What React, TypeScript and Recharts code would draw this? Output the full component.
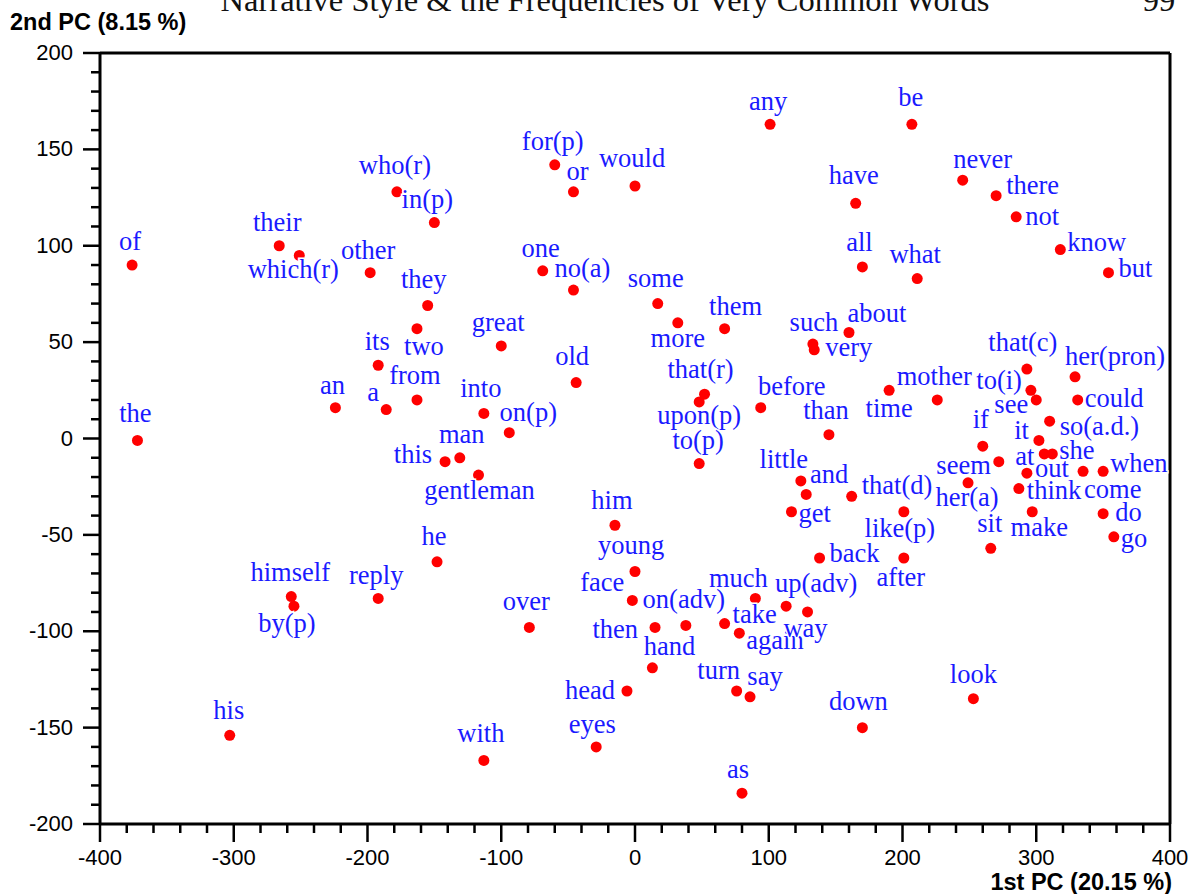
import { ReferenceLine, Scatter, ScatterChart, XAxis, YAxis } from "recharts";

// words and their scores on the first two principal components
const words = [
  "of", "the", "their", "which(r)", "who(r)", "in(p)", "other", "they", "its", "two",
  "an", "a", "from", "this", "man", "gentleman", "he", "himself", "by(p)", "reply",
  "his", "great", "into", "on(p)", "old", "for(p)", "or", "would", "one", "no(a)",
  "some", "more", "them", "that(r)", "upon(p)", "to(p)", "him", "young", "face", "on(adv)",
  "then", "over", "with", "eyes", "head", "hand", "turn", "say", "take", "again",
  "much", "up(adv)", "way", "as", "any", "be", "have", "never", "there", "not",
  "know", "but", "all", "what", "about", "such", "very", "before", "than", "mother",
  "time", "little", "and", "get", "that(d)", "like(p)", "back", "after", "that(c)", "her(pron)",
  "to(i)", "see", "could", "so(a.d.)", "if", "it", "at", "she", "seem", "her(a)",
  "out", "when", "come", "think", "make", "do", "go", "sit", "look", "down",
];

const pc1 = [
  -376, -372, -266, -251, -178, -150, -198, -155, -192, -163,
  -224, -186, -163, -142, -131, -117, -148, -257, -255, -192,
  -303, -100, -113, -94, -44, -60, -46, 0, -69, -46,
  17, 32, 67, 52, 48, 48, -15, 0, -2, 38,
  15, -79, -113, -29, -6, 13, 76, 86, 67, 78,
  90, 113, 129, 80, 101, 207, 165, 245, 270, 285,
  318, 354, 170, 211, 160, 133, 134, 94, 145, 226,
  190, 124, 128, 117, 162, 201, 138, 201, 293, 329,
  296, 300, 331, 310, 260, 302, 306, 312, 272, 249,
  293, 350, 335, 287, 297, 350, 358, 266, 253, 170,
];

const pc2 = [
  90, -1, 100, 95, 128, 112, 86, 69, 38, 57,
  16, 15, 20, -12, -10, -19, -64, -82, -87, -83,
  -154, 48, 13, 3, 29, 142, 128, 131, 87, 77,
  70, 60, 57, 23, 19, -13, -45, -69, -84, -97,
  -98, -98, -167, -160, -131, -119, -131, -134, -96, -101,
  -83, -87, -90, -184, 163, 163, 122, 134, 126, 115,
  98, 86, 89, 83, 55, 49, 46, 16, 2, 20,
  25, -22, -29, -38, -30, -38, -62, -62, 36, 32,
  25, 20, 20, 9, -4, -1, -8, -8, -12, -23,
  -18, -17, -17, -26, -38, -39, -51, -57, -135, -150,
];

const xMajorTicks = [-400, -300, -200, -100, 0, 100, 200, 300, 400];
const yMajorTicks = [-200, -150, -100, -50, 0, 50, 100, 150, 200];

// minor ticks between the majors
const withMinor = (majors: number[], parts: number) => {
  const out: number[] = [];
  for (let i = 0; i < majors.length - 1; i++) {
    const step = (majors[i + 1] - majors[i]) / parts;
    for (let k = 0; k < parts; k++) out.push(majors[i] + step * k);
  }
  out.push(majors[majors.length - 1]);
  return out;
};
const xTicks = withMinor(xMajorTicks, 5);
const yTicks = withMinor(yMajorTicks, 5);

// label placement: anchor, dx, dy (px from the dot)
const labelPos: Record<string, [string, number, number]> = {
  of: ["middle", -2, -21], the: ["middle", -2, -24], their: ["middle", -2, -21],
  "which(r)": ["middle", -6, 17], "who(r)": ["middle", -2, -24], "in(p)": ["middle", -7, -21],
  other: ["middle", -2, -20], they: ["middle", -4, -24], its: ["middle", -1, -21],
  two: ["middle", 7, 20], an: ["middle", -3, -20], a: ["middle", -13, -15],
  from: ["middle", -2, -22], this: ["end", -13, -5], man: ["middle", 2, -21],
  gentleman: ["middle", 1, 18], he: ["middle", -3, -23], himself: ["middle", -1, -22],
  "by(p)": ["middle", -7, 20], reply: ["middle", -2, -20], his: ["middle", -1, -22],
  great: ["middle", -3, -21], into: ["middle", -3, -22], "on(p)": ["middle", 19, -18],
  old: ["middle", -4, -24], "for(p)": ["middle", -2, -21], or: ["middle", 4, -18],
  would: ["middle", -3, -25], one: ["middle", -2, -20], "no(a)": ["middle", 9, -19],
  some: ["middle", -2, -23], more: ["middle", 0, 18], them: ["middle", 11, -20],
  "that(r)": ["middle", -4, -22], "upon(p)": ["middle", 0, 16], "to(p)": ["middle", -1, -21],
  him: ["middle", -3, -22], young: ["middle", -4, -23], face: ["end", -8, -15],
  "on(adv)": ["middle", -2, -23], then: ["end", -17, 5], over: ["middle", -3, -23],
  with: ["middle", -3, -24], eyes: ["middle", -4, -20], head: ["end", -12, 2],
  hand: ["middle", 17, -19], turn: ["middle", -18, -18], say: ["middle", 15, -18],
  take: ["start", 8, -7], again: ["start", 7, 10], much: ["middle", -17, -17],
  "up(adv)": ["middle", 30, -20], way: ["middle", -2, 19], as: ["middle", -4, -21],
  any: ["middle", -2, -20], be: ["middle", -1, -24], have: ["middle", -2, -25],
  never: ["middle", 20, -18], there: ["start", 10, -8], not: ["start", 9, 2],
  know: ["start", 7, -5], but: ["start", 10, -2], all: ["middle", -3, -22],
  what: ["middle", -2, -22], about: ["middle", 28, -16], such: ["middle", 1, -19],
  very: ["start", 11, 0], before: ["middle", 31, -19], than: ["middle", -3, -22],
  mother: ["middle", -3, -21], time: ["middle", 0, 21], little: ["middle", -17, -19],
  and: ["middle", 23, -17], get: ["start", 7, 4], "that(d)": ["start", 10, -8],
  "like(p)": ["middle", -4, 19], back: ["start", 10, -2], after: ["middle", -3, 22],
  "that(c)": ["middle", -4, -24], "her(pron)": ["middle", 40, -18], "to(i)": ["end", -9, -7],
  see: ["middle", -25, 7], could: ["start", 7, 1], "so(a.d.)": ["start", 10, 8],
  if: ["middle", -2, -24], it: ["end", -10, -7], at: ["end", -10, 5],
  she: ["start", 7, -1], seem: ["end", -8, 6], "her(a)": ["middle", -1, 17],
  out: ["start", 8, -2], when: ["start", 7, -5], come: ["start", 1, 21],
  think: ["start", 8, 4], make: ["middle", 7, 18], do: ["start", 12, 1],
  go: ["start", 7, 4], sit: ["middle", -1, -22], look: ["middle", 0, -22],
  down: ["middle", -4, -24],
};

const points = words.map((w, i) => ({ word: w, x: pc1[i], y: pc2[i] }));

const sans = "'Liberation Sans', Arial, sans-serif";
const serif = "'Liberation Serif', 'Times New Roman', serif";

const XTick = ({ x, y, payload }: any) => {
  const v = payload.value;
  const major = v % 100 === 0;
  return (
    <g>
      <line x1={x} x2={x} y1={y} y2={y + (major ? 18 : 9)} stroke="#000" strokeWidth={2.5} />
      {major && (
        <text x={x} y={y + 41} textAnchor="middle" fontSize={22} fontFamily={sans} fill="#000">
          {v}
        </text>
      )}
    </g>
  );
};

const YTick = ({ x, y, payload }: any) => {
  const v = payload.value;
  const major = v % 50 === 0;
  return (
    <g>
      <line x1={x} x2={x - (major ? 17 : 9)} y1={y} y2={y} stroke="#000" strokeWidth={2.5} />
      {major && (
        <text x={x - 27} y={y + 7} textAnchor="end" fontSize={22} fontFamily={sans} fill="#000">
          {v}
        </text>
      )}
    </g>
  );
};

const Dot = ({ cx, cy }: any) => <circle cx={cx} cy={cy} r={5.5} fill="#ff0000" />;

const WordLabel = ({ cx, cy, payload }: any) => {
  const [anchor, dx, dy] = labelPos[payload.word] ?? ["middle", 0, -21];
  return (
    <text
      x={cx + dx}
      y={cy + dy + 6}
      textAnchor={anchor}
      fontSize={26.5}
      fontFamily={serif}
      fill="#1a1aff"
      stroke="#fff"
      strokeWidth={3}
      paintOrder="stroke"
    >
      {payload.word}
    </text>
  );
};

export default function App() {
  return (
    <div style={{ position: "absolute", left: 0, top: 0, width: 1194, height: 894, background: "#fff" }}>
      <ScatterChart width={1194} height={894} margin={{ top: 53, right: 24, bottom: 0, left: 0 }}>
        <XAxis
          type="number"
          dataKey="x"
          domain={[-400, 400]}
          ticks={xTicks}
          interval={0}
          height={70}
          tickSize={0}
          tickMargin={0}
          tickLine={false}
          tick={<XTick />}
          axisLine={{ stroke: "#000", strokeWidth: 3 }}
        />
        <YAxis
          type="number"
          dataKey="y"
          domain={[-200, 200]}
          ticks={yTicks}
          interval={0}
          width={100}
          tickSize={0}
          tickMargin={0}
          tickLine={false}
          tick={<YTick />}
          axisLine={{ stroke: "#000", strokeWidth: 3 }}
        />
        <ReferenceLine y={200} stroke="#000" strokeWidth={3} />
        <ReferenceLine x={400} stroke="#000" strokeWidth={3} />
        <Scatter data={points} shape={<Dot />} isAnimationActive={false} />
        <Scatter data={points} shape={<WordLabel />} isAnimationActive={false} />
      </ScatterChart>
      <svg
        width={1194}
        height={894}
        style={{ position: "absolute", left: 0, top: 0, pointerEvents: "none" }}
      >
        <text x={605} y={11} textAnchor="middle" fontSize={32.5} fontFamily={serif} fill="#111">
          Narrative Style &amp; the Frequencies of Very Common Words
        </text>
        <text x={1159} y={11} textAnchor="middle" fontSize={32.5} fontFamily={serif} fill="#111">
          99
        </text>
        <text x={10} y={30} fontSize={23.5} fontWeight="bold" fontFamily={sans} fill="#000">
          2nd PC (8.15 %)
        </text>
        <text x={1172} y={890} textAnchor="end" fontSize={23.5} fontWeight="bold" fontFamily={sans} fill="#000">
          1st PC (20.15 %)
        </text>
      </svg>
    </div>
  );
}
